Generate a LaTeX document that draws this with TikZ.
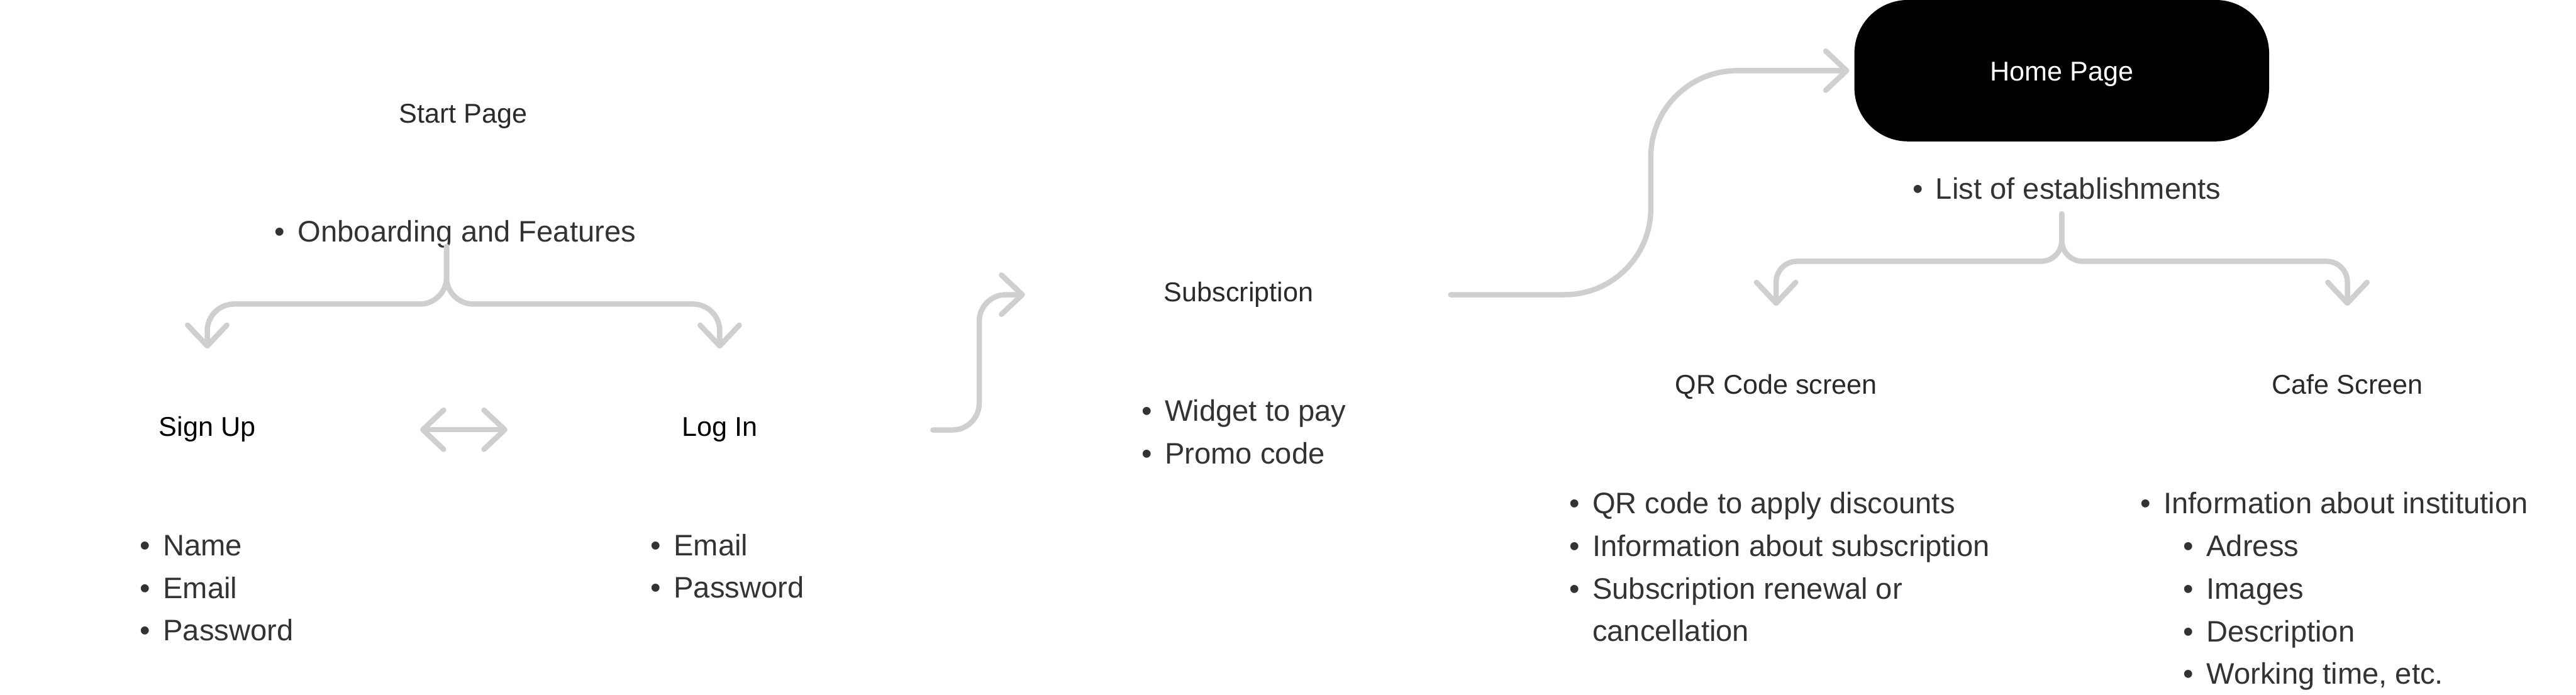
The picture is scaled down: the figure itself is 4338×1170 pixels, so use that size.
\documentclass[tikz,border=0pt]{standalone}
\usepackage{fontspec}
\setmainfont{Liberation Sans}
\usetikzlibrary{positioning,calc,arrows.meta}
\definecolor{linegray}{HTML}{CFCFCF}
\definecolor{textgray}{HTML}{333333}
\definecolor{titlegray}{HTML}{2A2A2A}
\newcommand{\bul}[1]{\makebox[0.39cm][l]{\textbullet}#1}
\newcommand{\cont}[1]{\hspace*{0.39cm}#1}
\newcommand{\subbul}[1]{\hspace*{0.72cm}\bul{#1}}
\tikzset{
	flow/.style={draw=linegray, line width=0.09cm, line cap=round, line join=round,
		>={Straight Barb[length=0.35cm,width=0.66cm,round]}, ->, rounded corners=0.45cm},
	screen/.style={inner sep=0pt, anchor=base, font=\fontsize{13}{15}\selectfont, text=titlegray},
	action/.style={screen, text=black},
	notes/.style={inner sep=0pt, anchor=base west, align=left,
		font=\fontsize{14.2}{20.4}\selectfont, text=textgray},
	homebox/.style={fill=black, rounded corners=0.9cm, minimum width=6.98cm,
		minimum height=2.38cm, text height=0.34cm, text depth=0cm, text=white,
		font=\fontsize{13}{15}\selectfont}
}
\begin{document}
\begin{tikzpicture}[x=0.01cm, y=-0.01cm]
	\useasboundingbox (0,0) rectangle (4338,1170);
	
	% start and sign in (notes sit on the baseline of their last line)
	\node[screen] (start) at (780,207) {Start Page};
	\node[notes] (onb) at (462,407) {\bul{Onboarding and Features}};
	\node[action] (signup) at (349,735) {Sign Up};
	\node[action] (login) at (1212,735) {Log In};
	\node[notes] (signupnotes) at (235,1079) {\bul{Name}\\\bul{Email}\\\bul{Password}};
	\node[notes] (loginnotes) at (1095,1007) {\bul{Email}\\\bul{Password}};
	
	% subscription
	\node[screen] (sub) at (2086,508) {Subscription};
	\node[notes] (subnotes) at (1922,781) {\bul{Widget to pay}\\\bul{Promo code}};
	
	% home and its screens
	\node[homebox] (home) at (3472,119) {Home Page};
	\node[notes] (homenotes) at (3220,335) {\bul{List of establishments}};
	\node[screen] (qr) at (2991,663) {QR Code screen};
	\node[screen] (cafe) at (3953,663) {Cafe Screen};
	\node[notes] (qrnotes) at (2642,1080) {\bul{QR code to apply discounts}\\
		\bul{Information about subscription}\\\bul{Subscription renewal or}\\\cont{cancellation}};
	\node[notes] (cafenotes) at (3604,1152) {\bul{Information about institution}\\
		\subbul{Adress}\\\subbul{Images}\\\subbul{Description}\\\subbul{Working time, etc.}};
	
	\coordinate (onbfork) at (752,415);
	\coordinate (estfork) at (3472,360);
	
	\draw[flow] (onbfork) |- (signup.north |- 0,512) -- (signup.north |- 0,587);
	\draw[flow] (onbfork) |- (login.north |- 0,512) -- (login.north |- 0,587);
	\draw[flow, <->] ($(signup)!0.5!(login)+(-73,0)$) -- ($(signup)!0.5!(login)+(74,0)$);
	\draw[flow] (1571,0 |- login) -| (1649,0 |- sub) -- (1726,0 |- sub);
	\draw[flow, rounded corners=1.45cm] (2443,0 |- sub) -| (2780,0 |- home) -- ([xshift=-0.08cm]home.west);
	\draw[flow, rounded corners=0.35cm] (estfork) |- (qr.north |- 0,440) -- (qr.north |- 0,515);
	\draw[flow, rounded corners=0.35cm] (estfork) |- (cafe.north |- 0,440) -- (cafe.north |- 0,515);
	
\end{tikzpicture}
\end{document}
